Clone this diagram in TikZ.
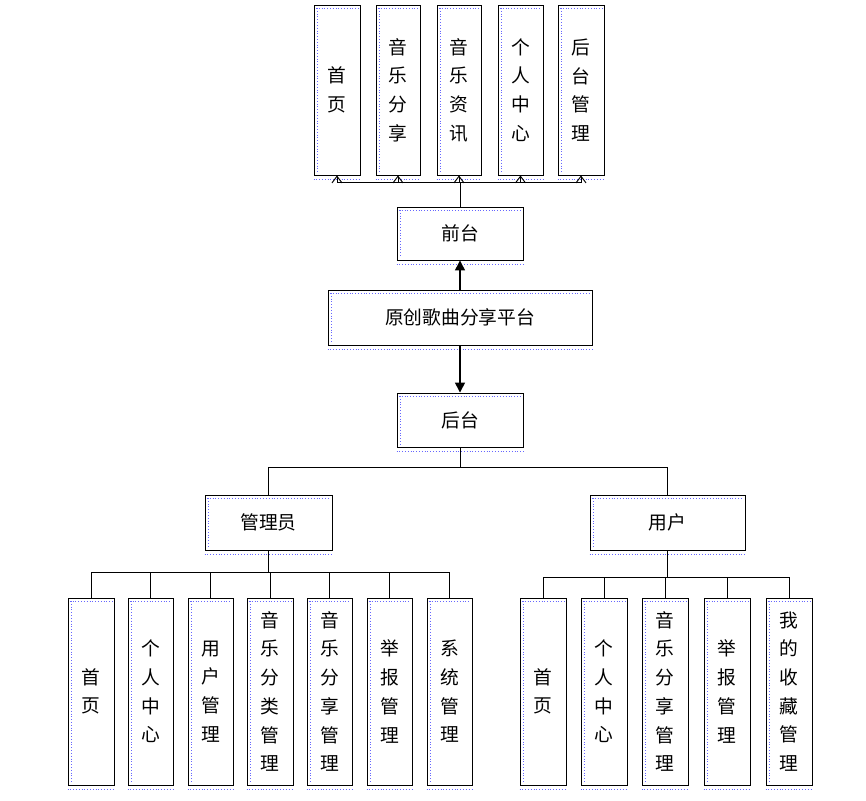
\documentclass[tikz,border=0pt]{standalone}
\usepackage{fontspec}
\newfontfamily\cjk{Noto Sans CJK SC}
\usetikzlibrary{arrows.meta,calc}
\begin{document}
\begin{tikzpicture}[x=0.03cm,y=-0.03cm,
		every node/.style={font=\cjk\fontsize{16}{24.5}\selectfont},
		box/.style={rectangle, draw=black, thick, inner sep=0pt, align=center},
		dots/.style={draw=blue!60, dotted, thin},
		link/.style={thick},
		up/.style={-{Straight Barb[length=2mm,width=3mm]}, thick},
		big/.style={-{Triangle[length=3mm,width=3mm]}, very thick}
	]
	\useasboundingbox (0,0) rectangle (866,800);
	% size macro: name, x1, y1, x2, y2, text
	\newcommand{\bx}[6]{\node[box, minimum width={(#4-#2)*0.03cm}, minimum height={(#5-#3)*0.03cm}]
		(#1) at ({(#2+#4)/2},{(#3+#5)/2}) {#6};
		\draw[dots] ([xshift=2pt,yshift=-3pt]#1.north west) -- ([xshift=-2pt,yshift=-3pt]#1.north east);
		\draw[dots] ([xshift=3pt,yshift=-3pt]#1.north west) -- ([xshift=3pt,yshift=3pt]#1.south west);
		\draw[dots] ([yshift=-3pt]#1.south west) -- ([yshift=-3pt]#1.south east);}

	% Front
	\bx{home}{314}{5}{360}{175}{首\\页}
	\bx{share}{376}{5}{420}{175}{音\\乐\\分\\享}
	\bx{news}{437}{5}{481}{175}{音\\乐\\资\\讯}
	\bx{center}{498}{5}{543}{175}{个\\人\\中\\心}
	\bx{admin}{558}{5}{604}{175}{后\\台\\管\\理}
	\bx{front}{397}{207}{523}{260}{前台}
	\bx{root}{328}{290}{592}{345}{原创歌曲分享平台}
	\bx{back}{397}{393}{523}{447}{后台}
	\bx{mgr}{205}{495}{332}{550}{管理员}
	\bx{user}{590}{495}{745}{550}{用户}

	% Manager
	\bx{mA}{68}{598}{114}{785}{首\\页}
	\bx{mB}{128}{598}{173}{785}{个\\人\\中\\心}
	\bx{mC}{188}{598}{233}{785}{用\\户\\管\\理}
	\bx{mD}{247}{598}{293}{785}{音\\乐\\分\\类\\管\\理}
	\bx{mE}{307}{598}{352}{785}{音\\乐\\分\\享\\管\\理}
	\bx{mF}{367}{598}{412}{785}{举\\报\\管\\理}
	\bx{mG}{427}{598}{472}{785}{系\\统\\管\\理}

	% User
	\bx{uA}{520}{598}{566}{785}{首\\页}
	\bx{uB}{581}{598}{627}{785}{个\\人\\中\\心}
	\bx{uC}{642}{598}{688}{785}{音\\乐\\分\\享\\管\\理}
	\bx{uD}{704}{598}{750}{785}{举\\报\\管\\理}
	\bx{uE}{766}{598}{812}{785}{我\\的\\收\\藏\\管\\理}

	% Arrows
	\draw[big] (root) -- (front);
	\draw[big] (root) -- (back);
	\coordinate (fj) at ($(front.north)+(0,-24)$);
	\draw[link] (front) -- (fj);
	\draw[link] (fj -| home) -- (fj -| admin);
	\foreach \n in {home,share,news,center,admin}
		\draw[up] (fj -| \n) -- (\n.south);

	\coordinate (bj) at ($(back.south)+(0,20)$);
	\draw[link] (back) -- (bj);
	\draw[link] (bj -| mgr) -- (bj -| user);
	\draw[link] (bj -| mgr) -- (mgr);
	\draw[link] (bj -| user) -- (user);

	\coordinate (mj) at ($(mgr.south)+(0,22)$);
	\draw[link] (mgr) -- (mj);
	\draw[link] (mj -| mA) -- (mj -| mG);
	\foreach \n in {mA,mB,mC,mD,mE,mF,mG}
		\draw[link] (mj -| \n) -- (\n.north);

	\coordinate (uj) at ($(user.south)+(0,27)$);
	\draw[link] (user) -- (uj);
	\draw[link] (uj -| uA) -- (uj -| uE);
	\foreach \n in {uA,uB,uC,uD,uE}
		\draw[link] (uj -| \n) -- (\n.north);
\end{tikzpicture}
\end{document}
